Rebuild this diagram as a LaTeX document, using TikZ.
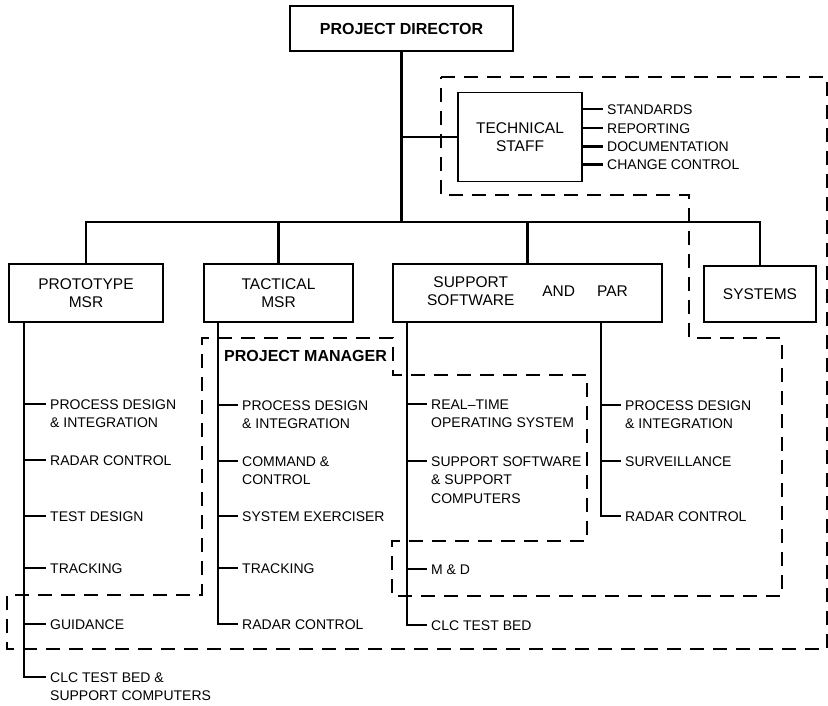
\documentclass[tikz,border=0pt]{standalone}
\usepackage{fontspec}
\setmainfont{Liberation Sans}
\newcommand\mlines[1]{\begin{tabular}[t]{@{}l@{}}#1\end{tabular}}
\begin{document}
\begin{tikzpicture}[x=1pt,y=-1pt,
  boxframe/.style={draw, line width=1.5pt, inner sep=0pt, font=\fontsize{15.5}{18}\selectfont},
  box/.style={boxframe, align=center},
  trunk/.style={line width=2.2pt},
  bound/.style={line width=1.8pt, dash pattern=on 14pt off 9pt},
  item/.style={anchor=west, inner xsep=4pt, inner ysep=0pt, text height=10pt, text depth=0pt,
    font=\fontsize{14}{18.5}\selectfont},
  boldtitle/.style={font=\fontsize{16}{19}\selectfont\bfseries}]
\fill[white] (0,0) rectangle (828,705);
\useasboundingbox (0,0) rectangle (828,705);

% dashed boundary
\draw[bound] (441,77) -- (827,77) -- (827,649) -- (7,649) -- (7,595) -- (202,595)
  -- (202,338) -- (393,338) -- (393,375) -- (587,375) -- (587,541) -- (392,541)
  -- (392,596) -- (782,596) -- (782,338) -- (689,338) -- (689,195) -- (441,195) -- cycle;

% boxes
\node[box, boldtitle, minimum width=223pt, minimum height=45pt] (pd) at (401.5,28.5) {PROJECT DIRECTOR};
\node[box, minimum width=124pt, minimum height=89pt] (ts) at (520,137) {TECHNICAL\\STAFF};
\node[box, minimum width=154pt, minimum height=58pt] (proto) at (86,293) {PROTOTYPE\\MSR};
\node[box, minimum width=149pt, minimum height=58pt] (tact) at (278.5,293) {TACTICAL\\MSR};
\node[boxframe, minimum width=269pt, minimum height=58pt] (supp) at (527.5,293)
  {\begin{tabular}{@{}c@{}}SUPPORT\\SOFTWARE\end{tabular}\hspace{28pt}AND\hspace{22pt}PAR\hspace{29pt}};
\node[box, minimum width=112pt, minimum height=56pt] (sys) at (760,294) {SYSTEMS};

\node[boldtitle, anchor=west, inner sep=0pt, text height=11.5pt, text depth=0pt] (pm) at (224,356) {PROJECT MANAGER};

% bus
\coordinate (bus) at (0,222);
\draw[trunk] (pd.south) -- (pd.south |- bus);
\draw[trunk] (ts.west) -- (ts.west -| pd.south);
\draw[trunk] (proto.north) |- (sys.north |- bus) -- (sys.north);
\draw[trunk] (tact.north) -- (tact.north |- bus);
\draw[trunk] (supp.north) -- (supp.north |- bus);

% technical staff outputs
\node[item] (s1) at (603,109) {STANDARDS};
\node[item] (s2) at (603,128) {REPORTING};
\node[item] (s3) at (603,146.5) {DOCUMENTATION};
\node[item] (s4) at (603,164.5) {CHANGE CONTROL};
\foreach \n in {s1,s2,s3,s4} \draw[trunk] (\n.west -| ts.east) -- (\n.west);

% trunk columns
\coordinate (tP) at (24,0);
\coordinate (tT) at (218,0);
\coordinate (tS) at (407,0);
\coordinate (tR) at (601,0);

% prototype MSR
\node[item] (p1) at (46,404) {\mlines{PROCESS DESIGN\\\& INTEGRATION}};
\node[item] (p2) at (46,460) {RADAR CONTROL};
\node[item] (p3) at (46,516) {TEST DESIGN};
\node[item] (p4) at (46,568) {TRACKING};
\node[item] (p5) at (46,624) {GUIDANCE};
\node[item] (p6) at (46,677) {\mlines{CLC TEST BED \&\\SUPPORT COMPUTERS}};
\draw[trunk] (proto.south -| tP) |- (p6.west);
\foreach \n in {p1,p2,p3,p4,p5} \draw[trunk] (tP |- \n.west) -- (\n.west);

% tactical MSR
\node[item] (t1) at (238,405) {\mlines{PROCESS DESIGN\\\& INTEGRATION}};
\node[item] (t2) at (238,461) {\mlines{COMMAND \&\\CONTROL}};
\node[item] (t3) at (238,516) {SYSTEM EXERCISER};
\node[item] (t4) at (238,568) {TRACKING};
\node[item] (t5) at (238,624) {RADAR CONTROL};
\draw[trunk] (tact.south -| tT) |- (t5.west);
\foreach \n in {t1,t2,t3,t4} \draw[trunk] (tT |- \n.west) -- (\n.west);

% support software
\node[item] (u1) at (427,404) {\mlines{REAL--TIME\\OPERATING SYSTEM}};
\node[item] (u2) at (427,461) {\mlines{SUPPORT SOFTWARE\\\& SUPPORT\\COMPUTERS}};
\node[item] (u3) at (427,569) {M \& D};
\node[item] (u4) at (427,625) {CLC TEST BED};
\draw[trunk] (supp.south -| tS) |- (u4.west);
\foreach \n in {u1,u2,u3} \draw[trunk] (tS |- \n.west) -- (\n.west);

% PAR
\node[item] (r1) at (621,405) {\mlines{PROCESS DESIGN\\\& INTEGRATION}};
\node[item] (r2) at (621,461) {SURVEILLANCE};
\node[item] (r3) at (621,516) {RADAR CONTROL};
\draw[trunk] (supp.south -| tR) |- (r3.west);
\foreach \n in {r1,r2} \draw[trunk] (tR |- \n.west) -- (\n.west);
\end{tikzpicture}
\end{document}
